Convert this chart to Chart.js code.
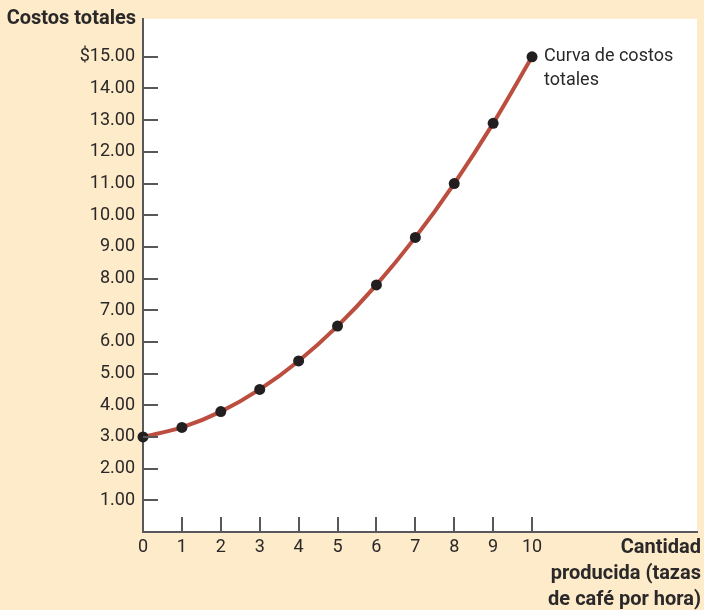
<!DOCTYPE html>
<html>
<head>
<meta charset="utf-8">
<script src="https://cdn.jsdelivr.net/npm/chart.js@4"></script>
<style>
  html, body { margin: 0; padding: 0; background: #fdebc9; }
  #wrap { width: 704px; height: 610px; position: relative; }
</style>
</head>
<body>
<div id="wrap"><canvas id="costChart" width="704" height="610"></canvas></div>
<script>
// --- DATA ---
const quantities = [0, 1, 2, 3, 4, 5, 6, 7, 8, 9, 10];
const totalCosts = [3.0, 3.3, 3.8, 4.5, 5.4, 6.5, 7.8, 9.3, 11.0, 12.9, 15.0];
const xTickValues = [0, 1, 2, 3, 4, 5, 6, 7, 8, 9, 10];
const yTickValues = [1, 2, 3, 4, 5, 6, 7, 8, 9, 10, 11, 12, 13, 14, 15];
const yTickLabels = ['1.00', '2.00', '3.00', '4.00', '5.00', '6.00', '7.00', '8.00',
  '9.00', '10.00', '11.00', '12.00', '13.00', '14.00', '$15.00'];
const yTitle = 'Costos totales';
const xTitle = ['Cantidad', 'producida (tazas', 'de café por hora)'];
const curveLabel = ['Curva de costos', 'totales'];

const FONT = 'Roboto, "Open Sans", sans-serif';
const AXIS = '#58585a';
const TEXT = '#2b2829';

// white plot area + inward tick marks + titles
const decor = {
  id: 'decor',
  beforeDraw(chart) {
    const { ctx, chartArea: a } = chart;
    ctx.save();
    ctx.fillStyle = '#ffffff';
    ctx.fillRect(a.left, a.top, a.right - a.left, a.bottom - a.top);
    ctx.restore();
  },
  afterDatasetsDraw(chart) {
    const { ctx, chartArea: a, scales } = chart;
    ctx.save();
    ctx.strokeStyle = AXIS;
    ctx.lineWidth = 2;
    yTickValues.forEach((v) => {
      const y = Math.round(scales.y.getPixelForValue(v));
      ctx.beginPath();
      ctx.moveTo(a.left, y);
      ctx.lineTo(a.left + 15, y);
      ctx.stroke();
    });
    xTickValues.forEach((v) => {
      if (v === 0) return;
      const x = Math.round(scales.x.getPixelForValue(v));
      ctx.beginPath();
      ctx.moveTo(x, a.bottom);
      ctx.lineTo(x, a.bottom - 15);
      ctx.stroke();
    });

    ctx.fillStyle = TEXT;
    ctx.textBaseline = 'middle';
    // y title
    ctx.font = 'bold 20px ' + FONT;
    ctx.textAlign = 'right';
    ctx.fillText(yTitle, 136, 19);
    // x title
    xTitle.forEach((line, i) => ctx.fillText(line, 701, 548 + i * 26));
    // curve label
    const last = quantities.length - 1;
    const px = scales.x.getPixelForValue(quantities[last]);
    const py = scales.y.getPixelForValue(totalCosts[last]);
    ctx.font = '18px ' + FONT;
    ctx.textAlign = 'left';
    curveLabel.forEach((line, i) => ctx.fillText(line, px + 12, py + i * 24));
    ctx.restore();
  }
};

new Chart(document.getElementById('costChart'), {
  type: 'line',
  data: {
    datasets: [{
      data: quantities.map((q, i) => ({ x: q, y: totalCosts[i] })),
      borderColor: '#bb4e3e',
      borderWidth: 4,
      tension: 0.4,
      cubicInterpolationMode: 'monotone',
      pointRadius: 5.5,
      pointBackgroundColor: '#231f20',
      pointBorderColor: '#231f20',
      pointBorderWidth: 0,
      clip: false,
    }],
  },
  options: {
    responsive: false,
    animation: false,
    layout: { padding: { top: 15, right: 7, left: 0, bottom: 0 } },
    plugins: { legend: { display: false }, tooltip: { enabled: false } },
    scales: {
      x: {
        type: 'linear',
        min: 0,
        max: 14.24,
        afterBuildTicks: (s) => { s.ticks = xTickValues.map((v) => ({ value: v })); },
        afterFit: (s) => { s.height = 78; },
        grid: { display: false, drawTicks: false },
        border: { color: AXIS, width: 2 },
        ticks: {
          color: TEXT,
          font: { family: FONT, size: 18 },
          padding: 5,
          maxRotation: 0,
          autoSkip: false,
        },
      },
      y: {
        min: 0,
        max: 16.2,
        afterBuildTicks: (s) => { s.ticks = yTickValues.map((v) => ({ value: v })); },
        afterFit: (s) => { s.width = 143; },
        grid: { display: false, drawTicks: false },
        border: { color: AXIS, width: 2 },
        ticks: {
          color: TEXT,
          font: { family: FONT, size: 18 },
          padding: 8,
          autoSkip: false,
          callback: (v) => yTickLabels[yTickValues.indexOf(v)],
        },
      },
    },
  },
  plugins: [decor],
});
</script>
</body>
</html>
